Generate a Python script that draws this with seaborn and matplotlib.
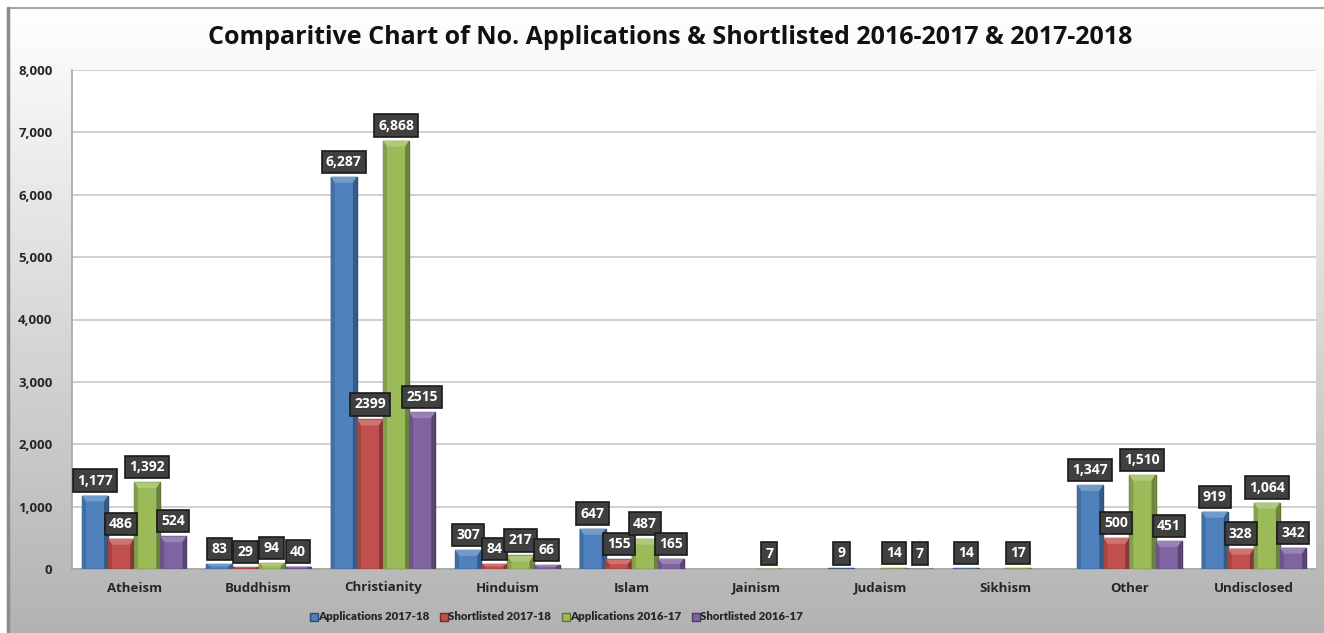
import numpy as np
import pandas as pd
import matplotlib
matplotlib.use("Agg")
import matplotlib.pyplot as plt
from matplotlib.lines import Line2D
import matplotlib.colors as mcolors
import seaborn as sns

# ---- data -------------------------------------------------------------
categories = ["Atheism", "Buddhism", "Christianity", "Hinduism", "Islam",
              "Jainism", "Judaism", "Sikhism", "Other", "Undisclosed"]
series_names = ["Applications 2017-18", "Shortlisted 2017-18",
                "Applications 2016-17", "Shortlisted 2016-17"]
applications_2017_18 = [1177, 83, 6287, 307, 647, np.nan, 9, 14, 1347, 919]
shortlisted_2017_18 = [486, 29, 2399, 84, 155, np.nan, np.nan, np.nan, 500, 328]
applications_2016_17 = [1392, 94, 6868, 217, 487, 7, 14, 17, 1510, 1064]
shortlisted_2016_17 = [524, 40, 2515, 66, 165, np.nan, 7, np.nan, 451, 342]
# labels printed without a thousands separator
plain_labels = {("Shortlisted 2017-18", "Christianity"),
                ("Shortlisted 2016-17", "Christianity")}
y_ticks = [0, 1000, 2000, 3000, 4000, 5000, 6000, 7000, 8000]
title = "Comparitive Chart of No. Applications & Shortlisted 2016-2017 & 2017-2018"

colors = ["#4f81bd", "#c0504d", "#9bbb59", "#8064a2"]
edge_colors = ["#2c4d75", "#772c2a", "#5f7530", "#4d3b62"]

rows = []
for name, vals in zip(series_names, [applications_2017_18, shortlisted_2017_18,
                                     applications_2016_17, shortlisted_2016_17]):
    for cat, v in zip(categories, vals):
        rows.append({"Religion": cat, "Series": name, "Count": v})
df = pd.DataFrame(rows).dropna()

# ---- figure -------------------------------------------------------------
W, H, DPI = 1324, 633, 100
sns.set_theme(style="white")
plt.rcParams["font.family"] = ["Open Sans", "DejaVu Sans"]
fig = plt.figure(figsize=(W / DPI, H / DPI), dpi=DPI)
fig.patch.set_facecolor("white")

# grey vertical gradient frame behind the chart
bg = fig.add_axes([0, 0, 1, 1], zorder=-10)
bg.set_xlim(0, W)
bg.set_ylim(H, 0)
bg.axis("off")
grad = np.linspace(0, 1, 256)[:, None]
top_c = np.array([1.0, 1.0, 1.0])
bot_c = np.array([0.70, 0.70, 0.70])
img = top_c[None, None, :] * (1 - grad[..., None]) + bot_c[None, None, :] * grad[..., None]
bg.imshow(img, extent=(8, W, H, 8), aspect="auto", zorder=0)
bg.plot([8, W], [8, 8], color="#a6a6a6", lw=1.5, zorder=1)
bg.plot([8, 8], [8, H], color="#8c8c8c", lw=2.5, zorder=1)

ax = fig.add_axes([72 / W, 1 - 569 / H, (1316 - 72) / W, (569 - 70) / H])
ax.set_facecolor("white")

sns.barplot(data=df, x="Religion", y="Count", hue="Series",
            order=categories, hue_order=series_names, palette=colors,
            width=0.84, gap=0, errorbar=None, ax=ax, legend=False,
            saturation=1, zorder=3)

ax.set_ylim(0, 8000)
ax.set_xlim(-0.5, len(categories) - 0.5)

# bevelled look: darker outline, light cap and shaded sides on each bar
px_x = (len(categories)) / (1316 - 72)
px_y = 8000 / (569 - 70)


def shade(c, f):
    r = np.array(mcolors.to_rgb(c))
    return tuple(np.clip(r * f if f < 1 else r + (1 - r) * (f - 1), 0, 1))


for i, cont in enumerate(ax.containers):
    for bar in cont:
        h = bar.get_height()
        if not np.isfinite(h) or h <= 0:
            continue
        bar.set_edgecolor(edge_colors[i])
        bar.set_linewidth(1.0)
        x0, w = bar.get_x(), bar.get_width()
        dx = 4 * px_x
        dy = min(6 * px_y, h / 2)
        ax.fill([x0, x0 + w, x0 + w - dx, x0 + dx], [h, h, h - dy, h - dy],
                color=shade(colors[i], 1.2), lw=0, zorder=4)
        ax.fill([x0, x0 + dx, x0 + dx, x0], [0, 0, h - dy, h],
                color=shade(colors[i], 0.85), lw=0, zorder=4)
        ax.fill([x0 + w, x0 + w - dx, x0 + w - dx, x0 + w], [0, 0, h - dy, h],
                color=shade(colors[i], 0.7), lw=0, zorder=4)

ax.set_yticks(y_ticks)
ax.set_yticklabels([f"{t:,}" for t in y_ticks], fontweight="bold", fontsize=9.5)
ax.tick_params(axis="y", length=0, pad=14)
ax.tick_params(axis="x", length=0, pad=9)
for lbl in ax.get_xticklabels():
    lbl.set_fontweight("bold")
    lbl.set_fontsize(9.5)
ax.set_xlabel("")
ax.set_ylabel("")
ax.yaxis.grid(True, color="#c8c8c8", lw=1.2, zorder=0)
ax.set_axisbelow(True)
for s in ["top", "right"]:
    ax.spines[s].set_visible(False)
for s in ["left", "bottom"]:
    ax.spines[s].set_color("#a6a6a6")
    ax.spines[s].set_linewidth(1.2)

# value labels in dark boxes
for i, cont in enumerate(ax.containers):
    for bar in cont:
        h = bar.get_height()
        if not np.isfinite(h):
            continue
        xc = bar.get_x() + bar.get_width() / 2
        cat = categories[int(round(xc))]
        v = int(round(h))
        text = str(v) if (series_names[i], cat) in plain_labels else f"{v:,}"
        ax.annotate(text, (xc, h), xytext=(0, 15), textcoords="offset pixels",
                    ha="center", va="center", color="white", fontsize=10,
                    fontweight="bold", zorder=6, annotation_clip=False,
                    bbox=dict(boxstyle="square,pad=0.3", fc="#404040",
                              ec="#1a1a1a", lw=1.2))

fig.text(670 / W, 1 - 37 / H, title, ha="center", va="center",
         fontsize=18, fontweight="bold", color="#111111")

handles = [Line2D([0], [0], marker="s", color="none", markerfacecolor=c,
                  markeredgecolor=e, markersize=5.5) for c, e in zip(colors, edge_colors)]
fig.legend(handles, series_names, loc="center", bbox_to_anchor=(557 / W, 1 - 617 / H),
           ncol=4, frameon=False, handlelength=0.5, handletextpad=0.15,
           columnspacing=1.0, prop={"weight": "heavy", "size": 8.2,
                                    "family": ["Lato", "DejaVu Sans"]})

fig.savefig("out.png", dpi=DPI)
